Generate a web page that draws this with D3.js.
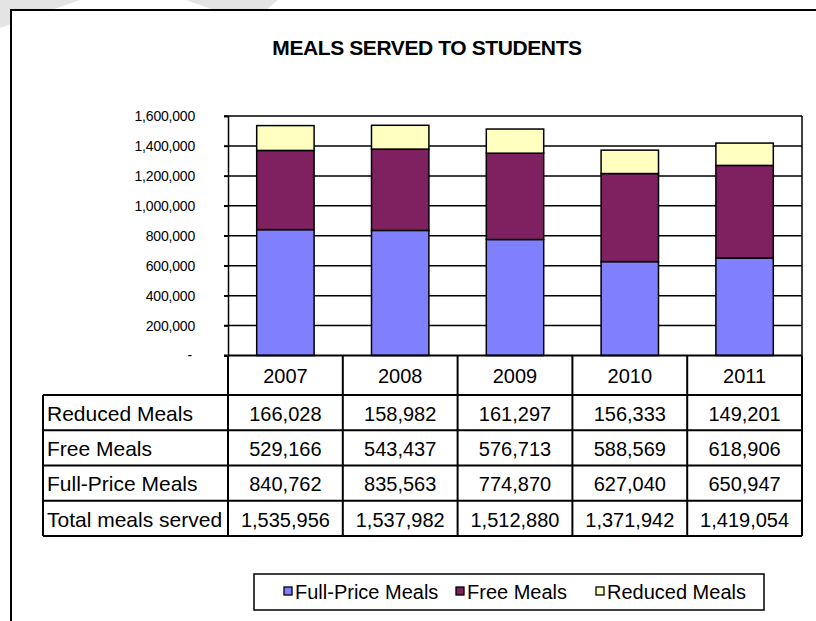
<!DOCTYPE html>
<html><head><meta charset="utf-8">
<script src="https://cdn.jsdelivr.net/npm/d3@7"></script>
<style>html,body{margin:0;padding:0;background:#fff;} svg{display:block;font-family:"Liberation Sans",Arial,sans-serif;}</style>
</head><body>
<svg id="c" width="816" height="621"></svg>
<script>
const years = ["2007","2008","2009","2010","2011"];
const seriesNames = ["Full-Price Meals","Free Meals","Reduced Meals"];
const fullPrice = [840762, 835563, 774870, 627040, 650947];
const freeMeals = [529166, 543437, 576713, 588569, 618906];
const reducedMeals = [166028, 158982, 161297, 156333, 149201];
const totals = [1535956, 1537982, 1512880, 1371942, 1419054];
const yTicks = [0,200000,400000,600000,800000,1000000,1200000,1400000,1600000];
const tableRows = ["Reduced Meals","Free Meals","Full-Price Meals","Total meals served"];
const colors = ["#8080FF","#7F2060","#FFFFC0"];

const svg = d3.select("#c");
const fmt = d3.format(",");

// faint background marks outside the frame
svg.append("path").attr("d","M0,0 L80,0 L11,24 L0,28 Z").attr("fill","#e4e4e4");
svg.append("path").attr("d","M186,0 L278,0 L266,10 L214,10 Z").attr("fill","#e4e4e4");

// frame
svg.append("rect").attr("x",11).attr("y",10).attr("width",830).attr("height",640)
  .attr("fill","#fff").attr("stroke","#000").attr("stroke-width",2);

// title
svg.append("text").attr("x",427).attr("y",55).attr("text-anchor","middle")
  .attr("font-size",21).attr("font-weight","bold").attr("letter-spacing","-0.4")
  .text("MEALS SERVED TO STUDENTS");

const pL = 228, pR = 802, pT = 116, pB = 355.5;
const x = d3.scaleBand().domain(years).range([pL,pR]).paddingInner(0).paddingOuter(0);
const y = d3.scaleLinear().domain([0,1600000]).range([pB,pT]);

// gridlines
svg.append("g").selectAll("line").data(yTicks.slice(1)).join("line")
  .attr("x1",pL-4).attr("x2",pR).attr("y1",d=>y(d)).attr("y2",d=>y(d))
  .attr("stroke","#000").attr("stroke-width",1.5);
svg.append("line").attr("x1",pR).attr("x2",pR).attr("y1",pT).attr("y2",pB)
  .attr("stroke","#000").attr("stroke-width",1.5);

// y axis
const yAxis = d3.axisLeft(y).tickValues(yTicks).tickSize(4).tickPadding(29)
  .tickFormat(d => d===0 ? "-" : fmt(d));
const ga = svg.append("g").attr("transform",`translate(${pL},0)`).call(yAxis);
ga.select(".domain").attr("stroke","#000").attr("stroke-width",1.5);
ga.selectAll(".tick line").attr("stroke","#000").attr("stroke-width",1.5);
ga.selectAll(".tick text").attr("font-size",14).attr("fill","#000")
  .attr("font-family","\"Liberation Sans\",Arial,sans-serif").attr("letter-spacing","-0.2");
ga.selectAll(".tick text").filter(d=>d===0).attr("dx",-3);

// stacked bars
const rows = years.map((yr,i)=>({year:yr, "Full-Price Meals":fullPrice[i], "Free Meals":freeMeals[i], "Reduced Meals":reducedMeals[i]}));
const stack = d3.stack().keys(seriesNames)(rows);
const bw = x.bandwidth()*0.5;
svg.append("g").selectAll("g").data(stack).join("g")
  .attr("fill",(d,i)=>colors[i])
  .selectAll("rect").data(d=>d).join("rect")
  .attr("x",d=>x(d.data.year)+x.bandwidth()/2-bw/2)
  .attr("width",bw)
  .attr("y",d=>y(d[1]))
  .attr("height",d=>y(d[0])-y(d[1]))
  .attr("stroke","#000").attr("stroke-width",1.5);

svg.append("line").attr("x1",pL-4).attr("x2",pR).attr("y1",pB).attr("y2",pB)
  .attr("stroke","#000").attr("stroke-width",2);

// data table
const tableLeft = 43;
const rowEdges = [pB, 395, 430.3, 465.6, 500.8, 536];
const tg = svg.append("g");
const colEdges = years.map(yr=>x(yr)).concat([pR]);
tg.selectAll("line.v").data(colEdges).join("line").attr("class","v")
  .attr("x1",d=>d).attr("x2",d=>d).attr("y1",pB).attr("y2",rowEdges[5])
  .attr("stroke","#000").attr("stroke-width",2);
tg.append("line").attr("x1",tableLeft).attr("x2",tableLeft).attr("y1",rowEdges[1]).attr("y2",rowEdges[5])
  .attr("stroke","#000").attr("stroke-width",2);
tg.selectAll("line.h").data(rowEdges.slice(1)).join("line").attr("class","h")
  .attr("x1",tableLeft).attr("x2",pR).attr("y1",d=>d).attr("y2",d=>d)
  .attr("stroke","#000").attr("stroke-width",2);

tg.selectAll("text.yr").data(years).join("text").attr("class","yr")
  .attr("x",d=>x(d)+x.bandwidth()/2).attr("y",383).attr("text-anchor","middle")
  .attr("font-size",20).text(d=>d);

const tableData = [reducedMeals, freeMeals, fullPrice, totals];
tableRows.forEach((lab,r)=>{
  const yb = rowEdges[r+2]-9.5;
  tg.append("text").attr("x",tableLeft+4).attr("y",yb).attr("font-size",21)
    .text(lab);
  tg.selectAll(null).data(tableData[r]).join("text")
    .attr("x",(d,i)=>x(years[i])+x.bandwidth()/2).attr("y",yb)
    .attr("text-anchor","middle").attr("font-size",20).text(d=>fmt(d));
});

// legend
svg.append("rect").attr("x",254).attr("y",574).attr("width",510).attr("height",36)
  .attr("fill","#fff").attr("stroke","#000").attr("stroke-width",1.5);
const legX = [284, 456, 596];
const lg = svg.append("g").selectAll("g").data(seriesNames).join("g")
  .attr("transform",(d,i)=>`translate(${legX[i]},0)`);
lg.append("rect").attr("x",0).attr("y",587).attr("width",8).attr("height",8)
  .attr("fill",(d,i)=>colors[i]).attr("stroke","#000").attr("stroke-width",1.3);
lg.append("text").attr("x",11).attr("y",598.5).attr("font-size",20).text(d=>d);
</script>
</body></html>
